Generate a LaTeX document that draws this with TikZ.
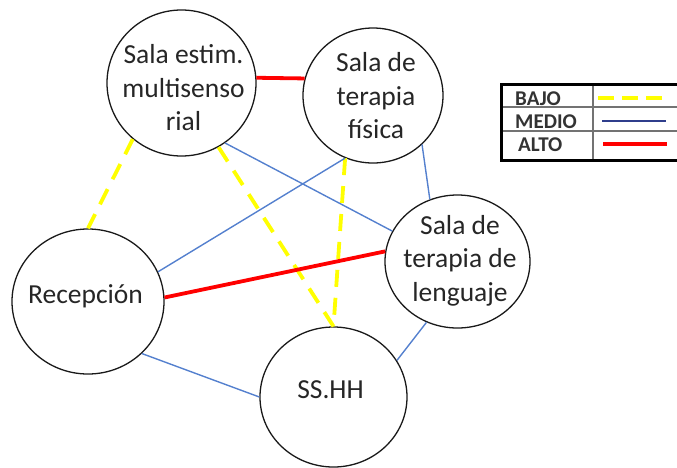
\documentclass[tikz,border=0pt]{standalone}
\usepackage{fontspec}
\setmainfont{Carlito}
\usetikzlibrary{shapes.geometric}

\definecolor{lowyellow}{RGB}{255,255,0}
\definecolor{midblue}{RGB}{84,128,206}
\definecolor{legblue}{RGB}{47,62,140}
\definecolor{highred}{RGB}{255,0,0}

\begin{document}
\begin{tikzpicture}[
    x=1pt, y=-1pt,
    room/.style={draw=black!90, ellipse, line width=1.3pt, inner sep=0pt},
    roomtext/.style={align=center, inner sep=0pt, text=black!85, font=\fontsize{27.5}{33.5}\selectfont},
    bajo/.style={lowyellow, line width=3.8pt, dash pattern=on 17pt off 11pt},
    medio/.style={midblue, line width=1.4pt},
    alto/.style={highred, line width=3.8pt},
    legtext/.style={anchor=west, inner sep=0pt, text=black!80, font=\fontsize{21}{21}\selectfont\bfseries},
]
\useasboundingbox (0,0) rectangle (677,467);

\node[room, minimum width=149pt, minimum height=146pt] (estim) at (181.5,83) {};
\node[room, minimum width=140pt, minimum height=135pt] (fisica) at (373,95.5) {};
\node[room, minimum width=145pt, minimum height=133pt] (leng) at (457.5,261.5) {};
\node[room, minimum width=152pt, minimum height=145pt] (recep) at (88,301.5) {};
\node[room, minimum width=147pt, minimum height=140pt] (sshh) at (333.5,397) {};

\node[roomtext] (estim-t) at (183.5,88) {Sala estim.\\multisenso\\rial};
\node[roomtext] (fisica-t) at (376,96) {Sala de\\terapia\\física};
\node[roomtext] (leng-t) at (460,260.5) {Sala de\\terapia de\\lenguaje};
\node[roomtext] (recep-t) at (85.5,296.5) {Recepción};
\node[roomtext] (sshh-t) at (330.5,390) {SS.HH};

\draw[alto] (estim.4) -- (fisica.166);
\draw[bajo] (estim.229) -- (recep.north);
\draw[bajo] (estim.300) -- (sshh.north);
\draw[bajo] (fisica.246) -- (sshh.north);
\draw[medio] (estim.306) -- (leng.155);
\draw[medio] (recep.23) -- (fisica.246);
\draw[alto] (recep.3) -- (leng.172);
\draw[medio] (recep.316) -- (sshh.west);
\draw[medio] (fisica.315) -- (leng.114);
\draw[medio] (leng.243) -- (sshh.30);

\draw[black!55, line width=1.2pt] (593,84) -- (593,160) (501,107) -- (682,107) (501,131) -- (682,131);
\draw[black, line width=3pt] (682,84) -- (501,84) -- (501,160) -- (682,160);
\node[legtext] (bajo-t) at (515,99) {BAJO};
\node[legtext] (medio-t) at (515,122) {MEDIO};
\node[legtext] (alto-t) at (518,145) {ALTO};
\coordinate (bajo-a) at (598,98);
\coordinate (bajo-b) at (664,98);
\coordinate (medio-a) at (602,121);
\coordinate (medio-b) at (666,121);
\coordinate (alto-a) at (603,144);
\coordinate (alto-b) at (667,144);
\draw[lowyellow, line width=4pt, dash pattern=on 16pt off 8pt] (bajo-a) -- (bajo-b);
\draw[legblue, line width=2.2pt] (medio-a) -- (medio-b);
\draw[alto] (alto-a) -- (alto-b);
\end{tikzpicture}
\end{document}
